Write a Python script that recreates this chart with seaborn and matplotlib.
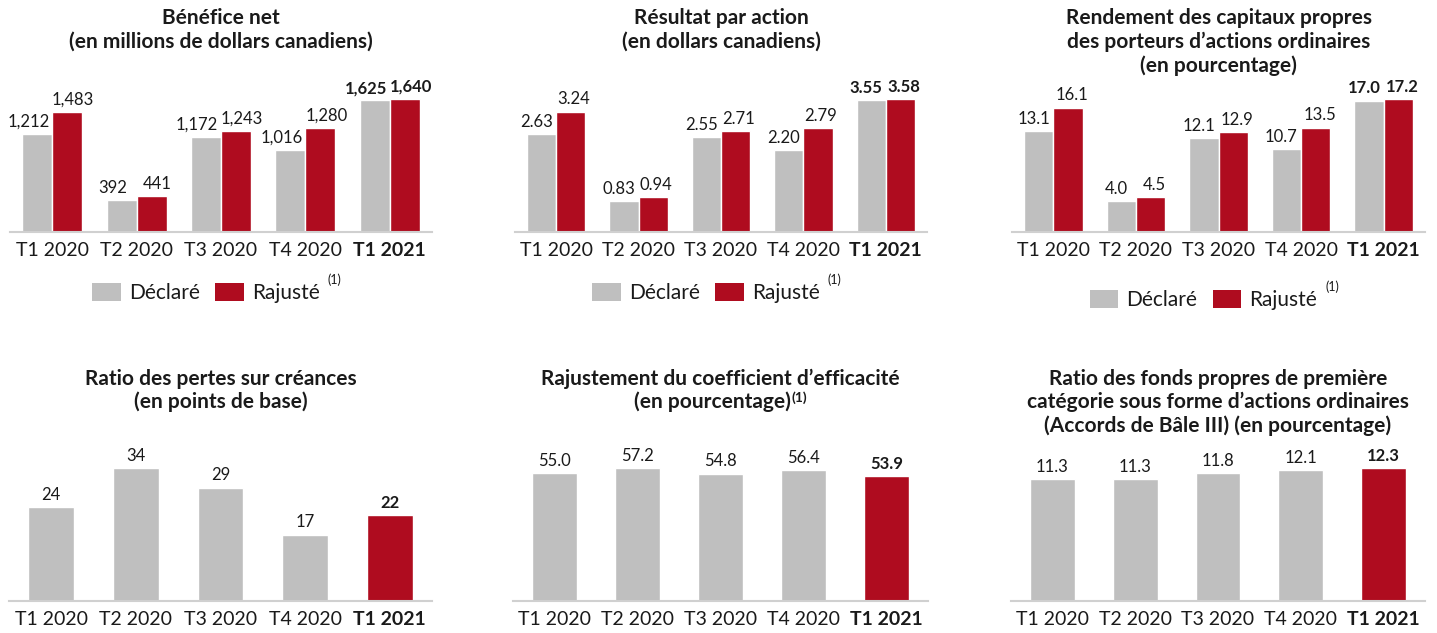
import matplotlib
matplotlib.use('Agg')
import matplotlib.pyplot as plt
import pandas as pd
import seaborn as sns
from matplotlib.patches import Patch

# Data
quarters = ['T1 2020', 'T2 2020', 'T3 2020', 'T4 2020', 'T1 2021']
series_names = ['Déclaré', 'Rajusté']

net_income_reported = [1212, 392, 1172, 1016, 1625]
net_income_adjusted = [1483, 441, 1243, 1280, 1640]
eps_reported = [2.63, 0.83, 2.55, 2.20, 3.55]
eps_adjusted = [3.24, 0.94, 2.71, 2.79, 3.58]
roe_reported = [13.1, 4.0, 12.1, 10.7, 17.0]
roe_adjusted = [16.1, 4.5, 12.9, 13.5, 17.2]

pcl_ratio = [24, 34, 29, 17, 22]
efficiency_adjusted = [55.0, 57.2, 54.8, 56.4, 53.9]
cet1_ratio = [11.3, 11.3, 11.8, 12.1, 12.3]

titles = [
    ['Bénéfice net', '(en millions de dollars canadiens)'],
    ['Résultat par action', '(en dollars canadiens)'],
    ['Rendement des capitaux propres', 'des porteurs d\u2019actions ordinaires', '(en pourcentage)'],
    ['Ratio des pertes sur créances', '(en points de base)'],
    ['Rajustement du coefficient d\u2019efficacité', '(en pourcentage)'],
    ['Ratio des fonds propres de première', 'catégorie sous forme d\u2019actions ordinaires',
     '(Accords de Bâle III) (en pourcentage)'],
]
footnote = '(1)'

GRAY = '#BFBFBF'
RED = '#AF0C1F'
TEXT = '#1A1A1A'
W, H = 1437, 633

sns.set_style('white')
plt.rcParams['font.family'] = ['Lato', 'DejaVu Sans']

fig = plt.figure(figsize=(W / 100, H / 100), dpi=100)


def make_axes(x0, x1, base, height=150):
    return fig.add_axes([x0 / W, 1 - base / H, (x1 - x0) / W, height / H])


def style_axes(ax, vmax, height=150, max_px=133):
    ax.set_ylim(0, vmax * height / max_px)
    ax.set_xlim(-0.5, 4.5)
    for side in ['top', 'left', 'right']:
        ax.spines[side].set_visible(False)
    ax.spines['bottom'].set_color('#D0D0D0')
    ax.spines['bottom'].set_linewidth(1.5)
    ax.set_yticks([])
    ax.set_xlabel('')
    ax.set_ylabel('')
    ax.tick_params(axis='x', length=0, pad=7, labelsize=14, labelcolor=TEXT)
    ax.set_xticks(range(len(quarters)))
    ax.set_xticklabels(quarters)
    ax.get_xticklabels()[-1].set_fontweight('bold')


def add_title(x0, x1, lines, first_baseline, step):
    texts = []
    for i, line in enumerate(lines):
        t = fig.text((x0 + x1) / 2 / W, 1 - (first_baseline + i * step) / H, line,
                     ha='center', va='baseline', fontsize=15, fontweight='bold', color=TEXT)
        texts.append(t)
    return texts


def label_bars(ax, fmt, shifts=None):
    # shifts: horizontal nudge in pixels for each container's labels
    for c, cont in enumerate(ax.containers):
        texts = ax.bar_label(cont, fmt=fmt, padding=3, fontsize=12, color=TEXT)
        for i, t in enumerate(texts):
            bar_x = cont[i].get_x() + cont[i].get_width() / 2
            if bar_x > 3.5:
                t.set_fontweight('bold')
            if shifts is not None:
                x, y = t.xyann
                t.xyann = (x + shifts[c] * 72 / 100, y)


# ---- top row: grouped bars ----
top_panels = [
    (10, 432, net_income_reported, net_income_adjusted, '{:,.0f}', 293, (-9, 6)),
    (515, 927, eps_reported, eps_adjusted, '{:.2f}', 293, (-5, 3)),
    (1012, 1425, roe_reported, roe_adjusted, '{:.1f}', 300, (-5, 4)),
]

legends = []
for k, (x0, x1, rep, adj, fmt, leg_y, shifts) in enumerate(top_panels):
    ax = make_axes(x0, x1, 232)
    df = pd.DataFrame({
        'quarter': quarters * 2,
        'value': rep + adj,
        'type': [series_names[0]] * 5 + [series_names[1]] * 5,
    })
    sns.barplot(data=df, x='quarter', y='value', hue='type', order=quarters,
                hue_order=series_names, palette=[GRAY, RED], width=0.71,
                gap=0, saturation=1, legend=False, ax=ax)
    style_axes(ax, max(adj))
    label_bars(ax, fmt, shifts)
    add_title(x0, x1, titles[k], 24, 24)
    handles = [Patch(facecolor=GRAY, edgecolor='none'), Patch(facecolor=RED, edgecolor='none')]
    leg = ax.legend(handles, series_names, loc='center', ncol=2, frameon=False,
                    bbox_to_anchor=(((x0 + x1) / 2 - 15) / W, 1 - leg_y / H),
                    bbox_transform=fig.transFigure, fontsize=15,
                    handlelength=1.35, handleheight=0.96, handletextpad=0.4,
                    columnspacing=0.75, borderpad=0, labelcolor=TEXT)
    legends.append(leg)

# ---- bottom row: single bars ----
bottom_panels = [
    (9, 432, pcl_ratio, '{:.0f}'),
    (513, 928, efficiency_adjusted, '{:.1f}'),
    (1011, 1425, cet1_ratio, '{:.1f}'),
]
title_texts = []
for k, (x0, x1, vals, fmt) in enumerate(bottom_panels):
    ax = make_axes(x0, x1, 601)
    df = pd.DataFrame({'quarter': quarters, 'value': vals})
    sns.barplot(data=df, x='quarter', y='value', hue='quarter', order=quarters,
                palette=[GRAY] * 4 + [RED], width=0.54, saturation=1,
                legend=False, ax=ax)
    style_axes(ax, max(vals))
    label_bars(ax, fmt)
    title_texts.append(add_title(x0, x1, titles[k + 3], 385, 23.5))

# footnote marks: after "Rajusté" in the legends and after the efficiency title
fig.canvas.draw()
renderer = fig.canvas.get_renderer()
for leg in legends:
    bb = leg.get_texts()[1].get_window_extent(renderer)
    fig.text((bb.x1 + 8) / W, (bb.y1 + 3) / H, footnote, fontsize=9,
             ha='left', va='center', color=TEXT)

main = title_texts[1][1]
sup = fig.text(0, 0, footnote, fontsize=10, fontweight='bold', color=TEXT,
               ha='left', va='baseline')
bb_main = main.get_window_extent(renderer)
bb_sup = sup.get_window_extent(renderer)
center = (bb_main.x0 + bb_main.x1) / 2
left = center - (bb_main.width + bb_sup.width + 1) / 2
main.set_ha('left')
main.set_x(left / W)
sup.set_position(((left + bb_main.width + 1) / W, main.get_position()[1] + 7 / H))

fig.savefig('out.png', dpi=100, facecolor='white')
